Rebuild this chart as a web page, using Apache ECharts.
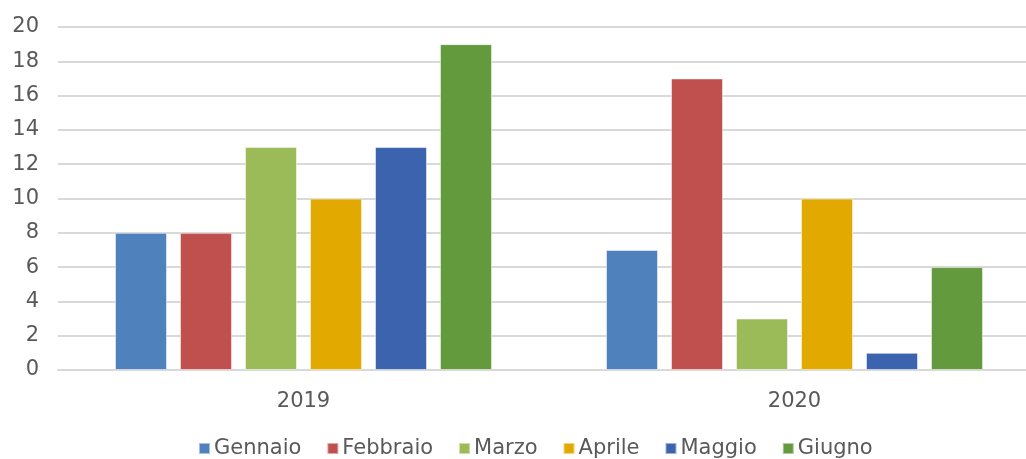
<!DOCTYPE html>
<html>
<head>
<meta charset="utf-8">
<script src="https://cdn.jsdelivr.net/npm/echarts@6/dist/echarts.min.js"></script>
<style>
  html, body { margin: 0; padding: 0; background: #fff; }
  #chart { width: 1026px; height: 459px; }
</style>
</head>
<body>
<div id="chart"></div>
<script>
var years = ['2019', '2020'];
var months = ['Gennaio', 'Febbraio', 'Marzo', 'Aprile', 'Maggio', 'Giugno'];
var colors = ['#4f81bd', '#c0504d', '#9bbb59', '#e2aa00', '#3c64ae', '#629a3d'];
var gennaio = [8, 7];
var febbraio = [8, 17];
var marzo = [13, 3];
var aprile = [10, 10];
var maggio = [13, 1];
var giugno = [19, 6];
var values = [gennaio, febbraio, marzo, aprile, maggio, giugno];

var chart = echarts.init(document.getElementById('chart'));
var textColor = '#595959';
var font = 'DejaVu Sans';

var series = months.map(function (m, i) {
  return {
    name: m,
    type: 'bar',
    data: values[i],
    barWidth: 52,
    barGap: '25%',
    itemStyle: { color: colors[i], borderColor: 'rgba(255,255,255,0.5)', borderWidth: 1 }
  };
});

chart.setOption({
  animation: false,
  color: colors,
  grid: { left: 58, top: 27, width: 982, height: 343, outerBoundsMode: 'none', containLabel: false },
  legend: {
    bottom: -5,
    left: 193,
    itemWidth: 11,
    itemHeight: 11,
    itemGap: 25,
    icon: 'rect',
    textStyle: { color: textColor, fontFamily: font, fontSize: 21, padding: [0, 0, 0, -1] },
    data: months
  },
  xAxis: {
    type: 'category',
    data: years,
    axisLine: { lineStyle: { color: '#d9d9d9', width: 2 } },
    axisTick: { show: false },
    axisLabel: { color: textColor, fontFamily: font, fontSize: 21, margin: 21 }
  },
  yAxis: {
    type: 'value',
    min: 0,
    max: 20,
    interval: 2,
    axisLine: { show: false },
    axisTick: { show: false },
    splitLine: { lineStyle: { color: '#d9d9d9', width: 2 } },
    axisLabel: { color: textColor, fontFamily: font, fontSize: 21, margin: 19 }
  },
  series: series
});
</script>
</body>
</html>
